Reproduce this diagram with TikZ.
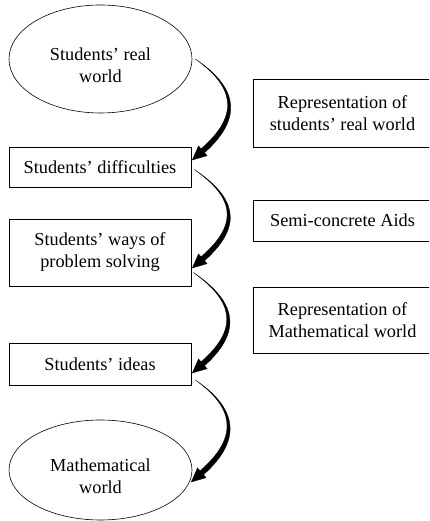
\documentclass[tikz,border=0pt]{standalone}
\usepackage{fontspec}
\setmainfont{Liberation Serif}
\usetikzlibrary{shapes.geometric,calc}

% tapered curved arrow from start coordinate #1 to tip coordinate #2
\newcommand{\flowarrow}[2]{%
  \filldraw[line width=0.3pt]
    (#1) .. controls ($(#1)+(39,-26)$) and ($(#2)+(54,44.5)$) .. ($(#2)+(12.2,7.25)$)
    -- ($(#2)+(14.8,4.3)$) -- (#2) -- ($(#2)+(6.2,14.1)$) -- ($(#2)+(8.8,11.2)$)
    .. controls ($(#2)+(49.5,46.5)$) and ($(#1)+(37,-26.5)$) .. (#1) -- cycle;}

\tikzset{
  box/.style={draw, rectangle, line width=0.6pt, inner sep=0pt, align=center,
    minimum width=182pt, font=\fontsize{18.3}{22}\selectfont},
  world/.style={draw, ellipse, line width=0.6pt, inner sep=0pt,
    minimum width=183pt},
  worldtext/.style={font=\fontsize{18.3}{22}\selectfont, align=center, yshift=-6pt}
}

\begin{document}
\begin{tikzpicture}[x=1pt, y=1pt]
  \path[use as bounding box, clip] (0,0) rectangle (429,521);

  % left column
  \node[world, minimum height=108pt,
    label={[worldtext]center:Students' real\\world}] (real) at (100.5,462) {};
  \node[box, minimum height=40pt] (diff) at (100,353.5) {Students' difficulties};
  \node[box, minimum height=67pt] (ways) at (100,268.5) {Students' ways of\\problem solving};
  \node[box, minimum height=42pt] (ideas) at (100,157) {Students' ideas};
  \node[world, minimum height=100pt,
    label={[worldtext]center:Mathematical\\world}] (math) at (100.5,51) {};

  % right column
  \node[box, minimum width=179pt, minimum height=68pt] (rep1) at (342.5,408) {Representation of\\students' real world};
  \node[box, minimum width=179pt, minimum height=41pt] (aids) at (342.5,300.5) {Semi-concrete Aids};
  \node[box, minimum width=179pt, minimum height=66pt] (rep2) at (342.5,201) {Representation of\\Mathematical world};

  % arrows
  \coordinate (s1) at ([xshift=3pt]real.east);
  \coordinate (t1) at ([xshift=1pt, yshift=7.5pt]diff.east);
  \coordinate (s2) at ([xshift=3pt, yshift=-2pt]diff.east);
  \coordinate (t2) at ([xshift=1pt, yshift=-15.5pt]ways.east);
  \coordinate (s3) at ([xshift=2pt, yshift=-20pt]ways.east);
  \coordinate (t3) at ([xshift=1pt, yshift=-9pt]ideas.east);
  \coordinate (s4) at ([xshift=4pt, yshift=-16pt]ideas.east);
  \coordinate (t4) at ([xshift=-1pt, yshift=-12pt]math.east);
  \flowarrow{s1}{t1}
  \flowarrow{s2}{t2}
  \flowarrow{s3}{t3}
  \flowarrow{s4}{t4}
\end{tikzpicture}
\end{document}
